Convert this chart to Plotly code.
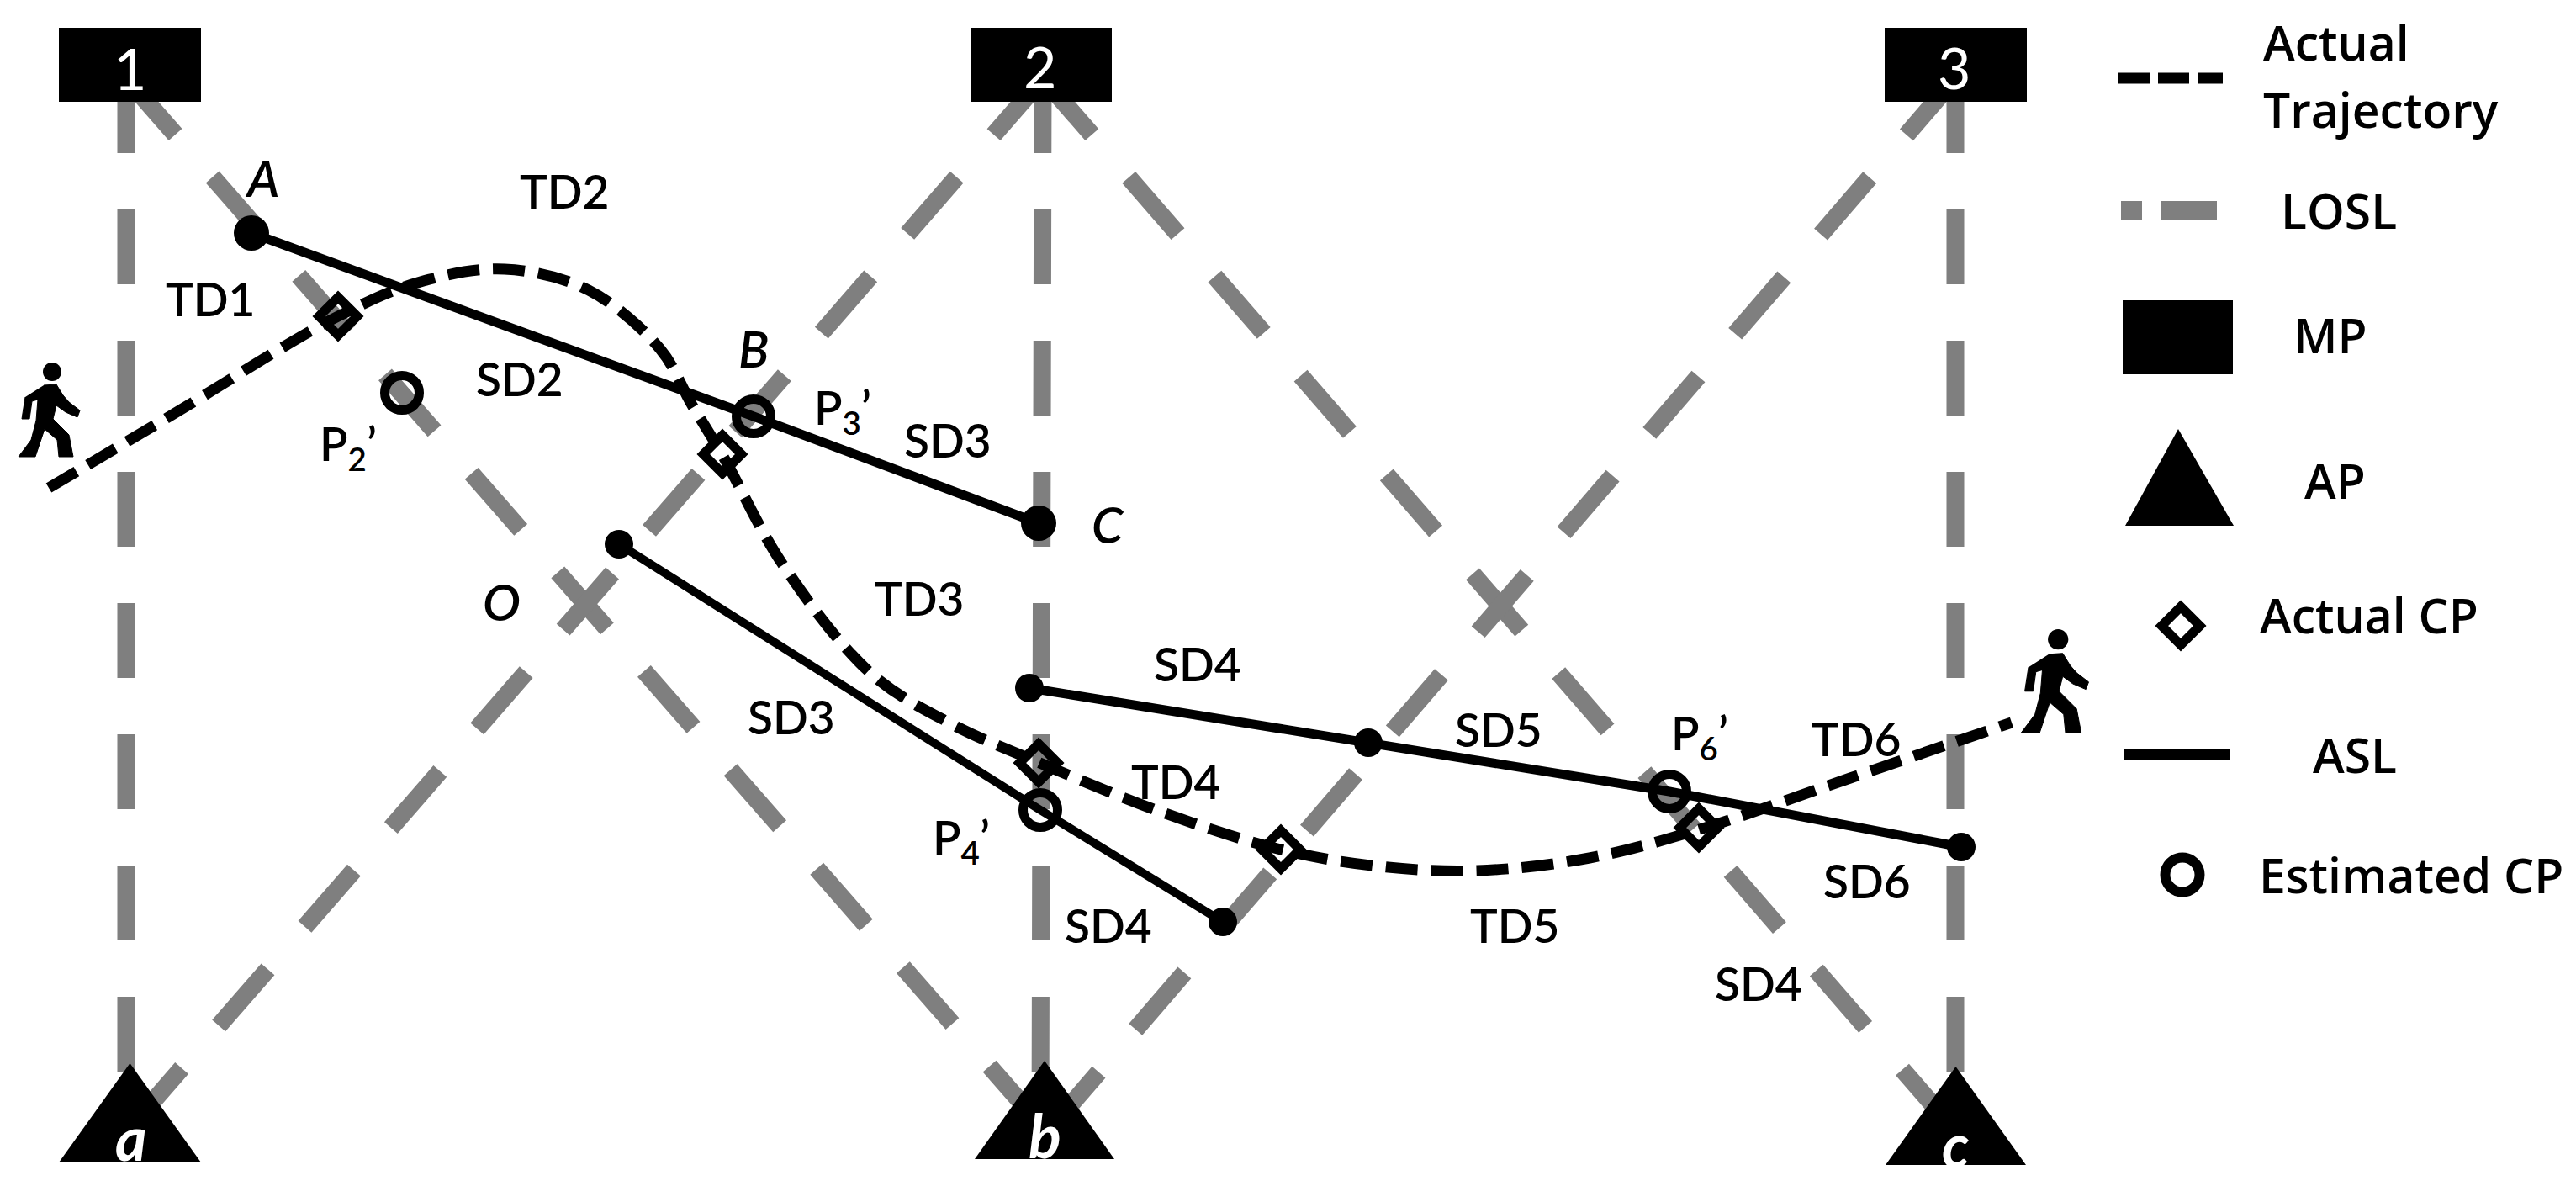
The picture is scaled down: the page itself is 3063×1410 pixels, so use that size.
import plotly.graph_objects as go

# everything in pixels, y going down
W = 3063
H = 1410
PAGE_MARGIN = 8  # the browser's own body margin
GRAY = "#7f7f7f"

# sight lines, from mobile point down to anchor point
losl_from_x = [150, 150, 1240, 1240, 1240, 2325, 2325]
losl_from_y = [93, 93, 93, 93, 93, 93, 93]
losl_to_x = [150, 1245, 150, 1237, 2330, 1245, 2325]
losl_to_y = [1346, 1346, 1346, 1346, 1350, 1346, 1346]

traj_x = [58, 200, 402, 500, 600, 700, 785, 822, 859, 930, 1035, 1130, 1234, 1380, 1523, 1640, 1757, 1890, 2021, 2200, 2392]
traj_y = [580, 496, 376, 335, 320, 345, 415, 480, 541, 670, 800, 860, 906, 965, 1010, 1030, 1035, 1020, 986, 925, 859]

asl1_x = [299, 896, 1235]
asl1_y = [277, 495, 622]
asl2_x = [736, 1237, 1454]
asl2_y = [647, 963, 1096]
asl3_x = [1224, 1627, 1985, 2332]
asl3_y = [818, 883, 941, 1007]

big_dot_x = [299, 1235]
big_dot_y = [277, 622]
small_dot_x = [736, 1454, 1224, 1627, 2332]
small_dot_y = [647, 1096, 818, 883, 1007]

est_cp_x = [478, 896, 1237, 1985]
est_cp_y = [467, 495, 963, 941]
act_cp_x = [402, 859, 1235, 1523, 2020]
act_cp_y = [376, 540, 907, 1010, 984]

mp_left = [70, 1154, 2241]
mp_right = [239, 1322, 2410]
ap_left = [70, 1159, 2242]
ap_right = [239, 1325, 2409]
ap_top = [1264, 1261, 1268]
ap_base = [1382, 1378, 1385]

# walking man outline, relative to the top left of the icon
man_x = [42, 57, 65, 72, 85, 82, 68, 57, 53, 72, 77, 60, 58, 43, 32, 12, 27, 33, 35, 28, 25, 16, 20]
man_y = [48, 47, 60, 68, 78, 86, 80, 72, 88, 107, 133, 133, 113, 100, 133, 133, 113, 90, 65, 67, 88, 88, 62]
man_left = [10, 2390]
man_top = [410, 725]
man_scale = [1.0, 1.1]

labels = ["TD2", "TD1", "SD2", "P<sub>2</sub>’", "P<sub>3</sub>’", "SD3", "TD3", "SD3", "SD4", "SD5", "TD4",
          "P<sub>4</sub>’", "SD4", "TD5", "P<sub>6</sub>’", "TD6", "SD6", "SD4"]
labels_x = [671, 250, 618, 414, 1002, 1127, 1093, 941, 1424, 1782, 1398, 1143, 1318, 1801, 2021, 2207, 2220, 2091]
labels_y = [227, 355, 450, 531, 488, 523, 711, 852, 789, 867, 929, 999, 1100, 1100, 875, 878, 1047, 1169]

point_names = ["A", "B", "C", "O"]
point_names_x = [311, 896, 1317, 596]
point_names_y = [211, 414, 623, 715]

mp_names = ["1", "2", "3"]
mp_names_x = [154, 1236, 2323]
mp_names_y = [80, 78, 79]

ap_names = ["a", "b", "c"]
ap_names_x = [156, 1242, 2325]
ap_names_y = [1352, 1349, 1360]

legend_names = ["Actual", "Trajectory", "LOSL", "MP", "AP", "Actual CP", "ASL", "Estimated CP"]
legend_names_x = [2778, 2831, 2781, 2771, 2776, 2817, 2800, 2867]
legend_names_y = [50, 130, 250, 398, 571, 731, 897, 1040]

fig = go.Figure()

#################################
# lines

for i in range(len(losl_from_x)):
    fig.add_trace(go.Scatter(x=[losl_from_x[i], losl_to_x[i]], y=[losl_from_y[i], losl_to_y[i]], mode="lines",
                             line=dict(color=GRAY, width=21, dash="89px,67px")))

fig.add_trace(go.Scatter(x=traj_x, y=traj_y, mode="lines", line=dict(color="black", width=13, dash="38px,16px", shape="spline", smoothing=1)))

fig.add_trace(go.Scatter(x=asl1_x, y=asl1_y, mode="lines", line=dict(color="black", width=11)))
fig.add_trace(go.Scatter(x=asl2_x, y=asl2_y, mode="lines", line=dict(color="black", width=10)))
fig.add_trace(go.Scatter(x=asl3_x, y=asl3_y, mode="lines", line=dict(color="black", width=11)))

fig.add_trace(go.Scatter(x=big_dot_x, y=big_dot_y, mode="markers", marker=dict(color="black", size=42)))
fig.add_trace(go.Scatter(x=small_dot_x, y=small_dot_y, mode="markers", marker=dict(color="black", size=34)))
fig.add_trace(go.Scatter(x=est_cp_x, y=est_cp_y, mode="markers", marker=dict(symbol="circle-open", color="black", size=41, line=dict(color="black", width=11))))
fig.add_trace(go.Scatter(x=act_cp_x, y=act_cp_y, mode="markers", marker=dict(symbol="diamond-open", color="black", size=35, line=dict(color="black", width=11))))

for i in range(len(man_left)):
    fig.add_trace(go.Scatter(x=[man_left[i] + v * man_scale[i] for v in man_x], y=[man_top[i] + v * man_scale[i] for v in man_y],
                             mode="lines", fill="toself", fillcolor="black", line=dict(color="black", width=1)))
    fig.add_trace(go.Scatter(x=[man_left[i] + 52 * man_scale[i]], y=[man_top[i] + 32 * man_scale[i]], mode="markers",
                             marker=dict(color="black", size=22 * man_scale[i])))

#################################
# legend keys

fig.add_trace(go.Scatter(x=[2519, 2643], y=[93, 93], mode="lines", line=dict(color="black", width=13, dash="37px,10px")))
fig.add_trace(go.Scatter(x=[2522, 2636], y=[250, 250], mode="lines", line=dict(color=GRAY, width=22, dash="25px,23px,66px")))
fig.add_trace(go.Scatter(x=[2526, 2651], y=[897, 897], mode="lines", line=dict(color="black", width=12)))
fig.add_trace(go.Scatter(x=[2593], y=[744], mode="markers", marker=dict(symbol="diamond-open", color="black", size=35, line=dict(color="black", width=11))))
fig.add_trace(go.Scatter(x=[2595], y=[1040], mode="markers", marker=dict(symbol="circle-open", color="black", size=41, line=dict(color="black", width=12))))

#################################
# boxes and triangles

shapes = []
for i in range(3):
    shapes.append(dict(type="rect", x0=mp_left[i], x1=mp_right[i], y0=33, y1=121, fillcolor="black", line=dict(width=0)))
    mid = (ap_left[i] + ap_right[i]) / 2
    shapes.append(dict(type="path", path=f"M {ap_left[i]} {ap_base[i]} L {mid} {ap_top[i]} L {ap_right[i]} {ap_base[i]} Z", fillcolor="black", line=dict(width=0)))
shapes.append(dict(type="rect", x0=2524, x1=2655, y0=357, y1=445, fillcolor="black", line=dict(width=0)))
shapes.append(dict(type="path", path="M 2527 625 L 2590 510 L 2656 625 Z", fillcolor="black", line=dict(width=0)))

#################################
# texts

annotations = []
for i, name in enumerate(labels):
    annotations.append(dict(x=labels_x[i], y=labels_y[i], text=name, showarrow=False, font=dict(family="Lato", size=55, color="black", weight=600)))
for i, name in enumerate(point_names):
    annotations.append(dict(x=point_names_x[i], y=point_names_y[i], text="<i>" + name + "</i>", showarrow=False, font=dict(family="Lato", size=60, color="black", weight=600)))
for i, name in enumerate(mp_names):
    annotations.append(dict(x=mp_names_x[i], y=mp_names_y[i], text=name, showarrow=False, font=dict(family="Lato", size=68, color="white")))
for i, name in enumerate(ap_names):
    annotations.append(dict(x=ap_names_x[i], y=ap_names_y[i], text="<b><i>" + name + "</i></b>", showarrow=False, font=dict(family="Lato", size=72, color="white")))
for i, name in enumerate(legend_names):
    annotations.append(dict(x=legend_names_x[i], y=legend_names_y[i], text=name, showarrow=False, font=dict(family="Open Sans", size=57, color="black", weight=600)))

# the page keeps its body margin, so draw inside it and keep the picture's pixel positions
fig.update_layout(width=W - 2 * PAGE_MARGIN, height=H - 2 * PAGE_MARGIN, margin=dict(l=0, r=0, t=0, b=0), plot_bgcolor="white", paper_bgcolor="white",
                  showlegend=False, shapes=shapes, annotations=annotations, hovermode=False)
fig.update_xaxes(range=[PAGE_MARGIN, W - PAGE_MARGIN], visible=False)
fig.update_yaxes(range=[H - PAGE_MARGIN, PAGE_MARGIN], visible=False)

fig.write_html("out.html")
